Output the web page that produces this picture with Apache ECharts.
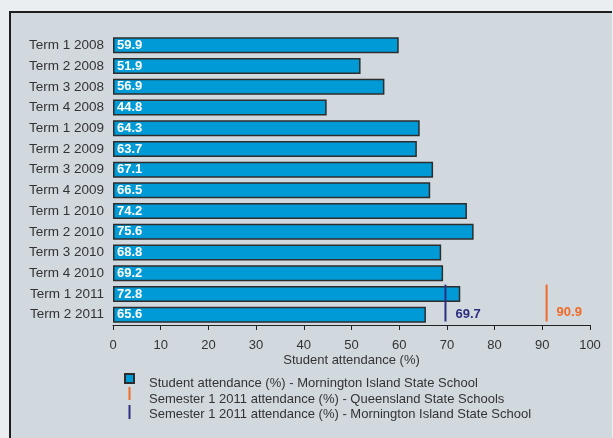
<!DOCTYPE html>
<html>
<head>
<meta charset="utf-8">
<script src="https://cdn.jsdelivr.net/npm/echarts@6/dist/echarts.min.js"></script>
<style>
html,body{margin:0;padding:0;background:#eaeef1;}
#chart{width:613px;height:438px;}
</style>
</head>
<body>
<div id="chart"></div>
<script>
const categories = ['Term 1 2008','Term 2 2008','Term 3 2008','Term 4 2008','Term 1 2009','Term 2 2009','Term 3 2009','Term 4 2009','Term 1 2010','Term 2 2010','Term 3 2010','Term 4 2010','Term 1 2011','Term 2 2011'];
const attendance = [59.9,51.9,56.9,44.8,64.3,63.7,67.1,66.5,74.2,75.6,68.8,69.2,72.8,65.6];
const qldSemester = [[90.9, 'Term 2 2011']];
const morningtonSemester = [[69.7, 'Term 2 2011']];
const xTicks = {min: 0, max: 100, interval: 10};
const seriesNames = [
  'Student attendance (%) - Mornington Island State School',
  'Semester 1 2011 attendance (%) - Queensland State Schools',
  'Semester 1 2011 attendance (%) - Mornington Island State School'
];

const FONT = 'Liberation Sans, Arial, sans-serif';

function markRenderer(color, labelDy) {
  return function (params, api) {
    const v = api.value(0);
    const idx = api.value(1);
    const p = api.coord([v, idx]);
    const band = api.size([0, 1])[1];
    const top = p[1] - 1.45 * band;
    const bottom = p[1] + 0.33 * band;
    return {
      type: 'group',
      children: [
        {type: 'line', shape: {x1: p[0], y1: top, x2: p[0], y2: bottom},
         style: {stroke: color, lineWidth: 2}},
        {type: 'text', x: p[0] + 10, y: p[1] + labelDy,
         style: {text: String(v), fill: color, font: 'bold 13px ' + FONT,
                 verticalAlign: 'middle', align: 'left'}}
      ]
    };
  };
}

const chart = echarts.init(document.getElementById('chart'), null, {renderer: 'canvas'});
chart.setOption({
  animation: false,
  backgroundColor: '#eaeef1',
  textStyle: {fontFamily: FONT},
  graphic: [
    {type: 'rect', z: -10, silent: true, shape: {x: 9, y: 11, width: 603, height: 440},
     style: {fill: '#d1d8de'}},
    {type: 'line', z: -9, silent: true, shape: {x1: 9, y1: 12, x2: 612, y2: 12},
     style: {stroke: '#1e1e1e', lineWidth: 2}},
    {type: 'line', z: -9, silent: true, shape: {x1: 10, y1: 11, x2: 10, y2: 438},
     style: {stroke: '#1e1e1e', lineWidth: 2}}
  ],
  grid: {left: 113, right: 23, top: 35, bottom: 113, containLabel: false},
  xAxis: {
    type: 'value', min: xTicks.min, max: xTicks.max, interval: xTicks.interval,
    name: 'Student attendance (%)', nameLocation: 'middle', nameGap: 29,
    nameMoveOverlap: false,
    nameTextStyle: {color: '#333', fontSize: 13, fontFamily: FONT},
    axisLine: {show: true, lineStyle: {color: '#222', width: 1}},
    axisTick: {show: true, length: 5, lineStyle: {color: '#222'}},
    axisLabel: {color: '#333', fontSize: 13, margin: 14, fontFamily: FONT},
    splitLine: {show: false}
  },
  yAxis: {
    type: 'category', data: categories, inverse: true,
    axisLine: {show: false}, axisTick: {show: false},
    axisLabel: {color: '#333', fontSize: 13.5, margin: 9, fontFamily: FONT}
  },
  legend: {
    orient: 'vertical', left: 124, top: 370, padding: 0,
    itemWidth: 9, itemHeight: 24, itemGap: -9,
    textStyle: {color: '#333', fontSize: 13, lineHeight: 15, fontFamily: FONT, padding: [0, 0, 0, 10]},
    data: [
      {name: seriesNames[0], icon: 'path://M0,0M0,3h9v9h-9zM0,24'},
      {name: seriesNames[1], icon: 'path://M0,0h2v13h-2zM0,24'},
      {name: seriesNames[2], icon: 'path://M0,0M0,3h2v14h-2zM0,24'}
    ]
  },
  series: [
    {
      name: seriesNames[0], type: 'bar', data: attendance, barWidth: 16,
      itemStyle: {color: '#009bd7', borderColor: '#2d2d2d', borderWidth: 1.5},
      label: {show: true, position: 'insideLeft', distance: 4,
              color: '#fff', fontWeight: 'bold', fontSize: 13, fontFamily: FONT}
    },
    {
      name: seriesNames[1], type: 'custom', data: qldSemester, z: 5,
      itemStyle: {color: '#f26a27'},
      renderItem: markRenderer('#f26a27', -2)
    },
    {
      name: seriesNames[2], type: 'custom', data: morningtonSemester, z: 5,
      itemStyle: {color: '#2c2f80'},
      renderItem: markRenderer('#2c2f80', 0)
    }
  ]
});
</script>
</body>
</html>
